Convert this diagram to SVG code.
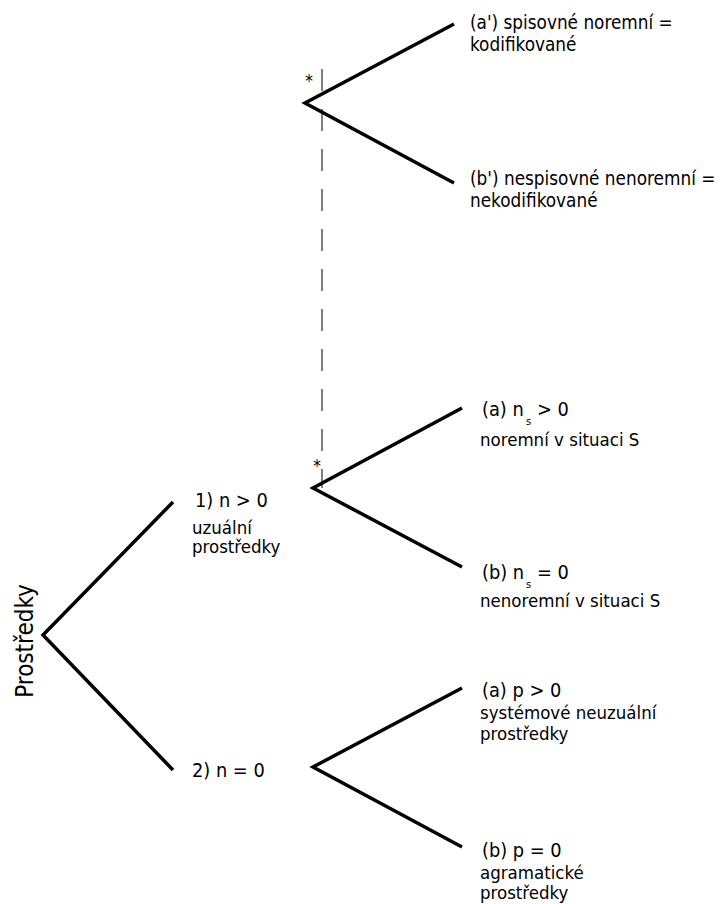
<svg xmlns="http://www.w3.org/2000/svg" width="723" height="904" viewBox="0 0 723 904">
<style>
text{font-family:"DejaVu Sans Condensed","DejaVu Sans",sans-serif;font-stretch:condensed;fill:#000}
.b{stroke:#000;stroke-width:3.5;fill:none;stroke-linejoin:miter}
.d{stroke:#000;stroke-width:1;stroke-dasharray:22 18;fill:none}
.h{font-size:19.8px}
.s{font-size:18.5px}
.t{font-size:18.8px}
.sub{font-size:11px}
.ast{font-size:17px}
</style>
<rect width="723" height="904" fill="#fff"/>
<g id="connectors">
<polyline class="b" points="173,502 43,635 173,770"/>
<polyline class="b" points="454,24 305,103 454,183"/>
<polyline class="b" points="462,408 313,488 462,567"/>
<polyline class="b" points="462,688 313,767 462,847"/>
<line class="d" x1="322" y1="69" x2="322" y2="488"/>
</g>
<g id="root"><text transform="translate(33,641) rotate(-90)" text-anchor="middle" style="font-size:24px">Prostředky</text></g>
<g id="n1"><text class="h" x="195" y="507">1) n &gt; 0</text><text class="s" x="192" y="534">uzuální</text><text class="s" x="192" y="553">prostředky</text></g>
<g id="n2"><text class="h" x="192" y="777">2) n = 0</text></g>
<g id="n1a"><text class="h" x="482" y="416">(a) n<tspan class="sub" x="526" y="425">s</tspan><tspan x="537" y="416">&gt; 0</tspan></text><text class="s" x="480" y="446">noremní v situaci S</text></g>
<g id="n1b"><text class="h" x="482" y="579">(b) n<tspan class="sub" x="526" y="588">s</tspan><tspan x="537" y="579">= 0</tspan></text><text class="s" x="480" y="607">nenoremní v situaci S</text></g>
<g id="n2a"><text class="h" x="482" y="697">(a) p &gt; 0</text><text class="s" x="480" y="719">systémové neuzuální</text><text class="s" x="480" y="740">prostředky</text></g>
<g id="n2b"><text class="h" x="482" y="857">(b) p = 0</text><text class="s" x="480" y="879">agramatické</text><text class="s" x="480" y="899">prostředky</text></g>
<g id="top_a"><text class="t" x="470" y="29">(a') spisovné noremní =</text><text class="t" x="470" y="51">kodifikované</text></g>
<g id="top_b"><text class="t" x="470" y="185">(b') nespisovné nenoremní =</text><text class="t" x="470" y="207">nekodifikované</text></g>
<g id="stars"><text class="ast" x="309" y="87" text-anchor="middle">*</text><text class="ast" x="317" y="472" text-anchor="middle">*</text></g>
</svg>
